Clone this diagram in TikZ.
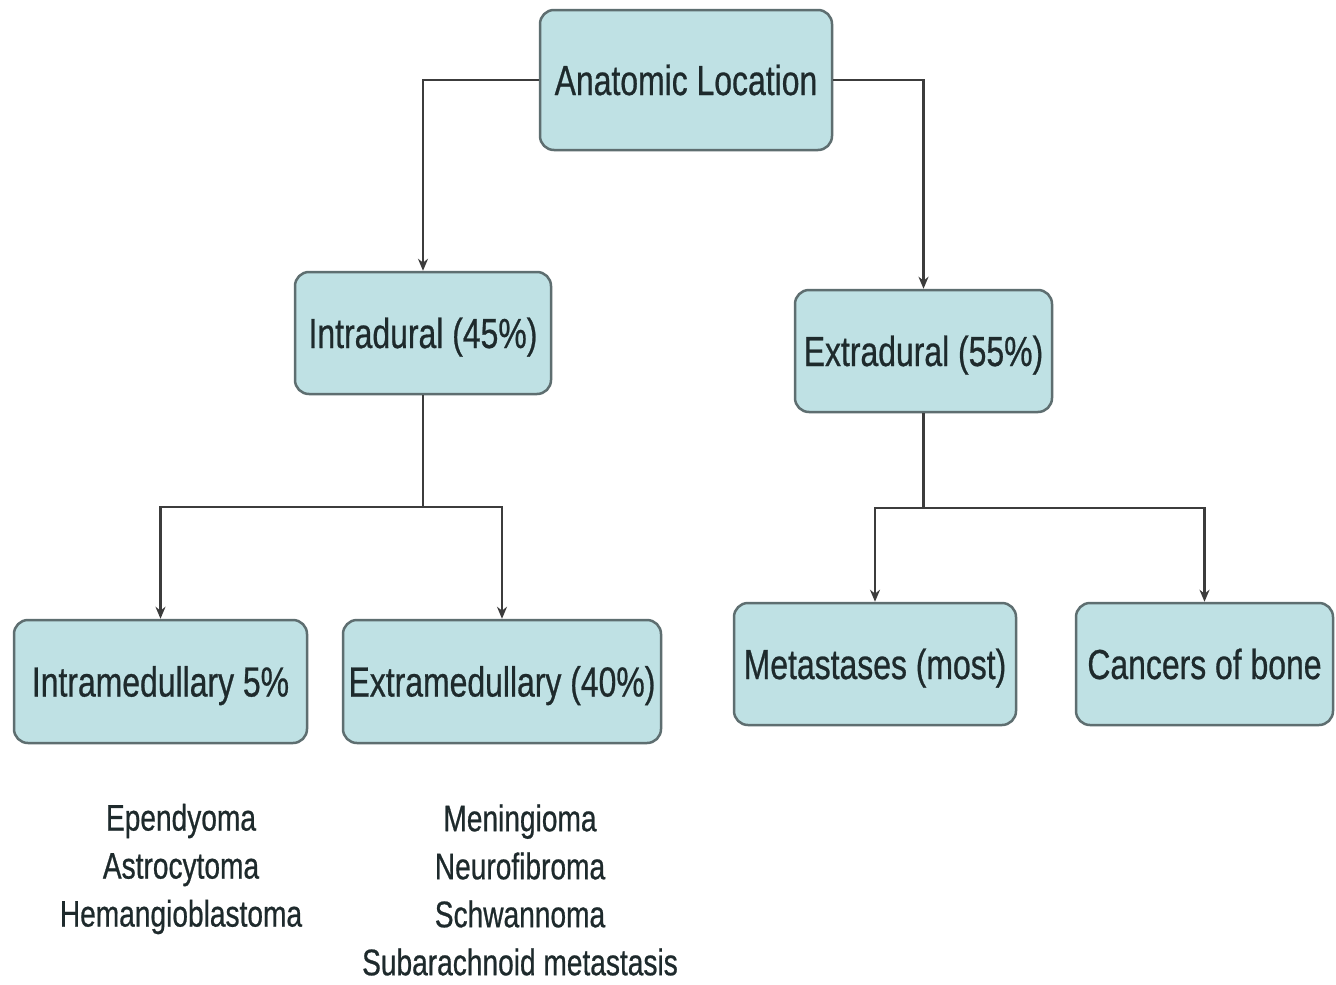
\documentclass[tikz,border=0pt]{standalone}
\usepackage{fontspec}
\setmainfont[FakeStretch=0.76,FakeBold=0.6]{Liberation Sans}
\usetikzlibrary{arrows.meta}
\definecolor{boxfill}{HTML}{BFE1E4}
\definecolor{boxline}{HTML}{5E6E70}
\definecolor{txt}{HTML}{1E2A2C}
\definecolor{conncol}{HTML}{3C3C3C}
\tikzset{
  box/.style={draw=boxline, line width=2.5pt, fill=boxfill, rounded corners=14pt,
    inner sep=0pt, text=txt, font=\fontsize{42}{48}\selectfont,
    text depth=0pt, text height=30pt},
  conn/.style={draw=conncol, line width=2.4pt},
  arr/.style={conn, -{Stealth[length=12pt,width=10pt]}},
  list/.style={align=center, text=txt, font=\fontsize{37}{48}\selectfont, inner sep=0pt},
}
\begin{document}
\begin{tikzpicture}[x=1pt,y=-1pt]
\useasboundingbox[fill=white] (0,0) rectangle (1336,985);
\node[box, minimum width=292pt, minimum height=140pt] (anat) at (686,80) {Anatomic Location};
\node[box, minimum width=256pt, minimum height=122pt] (intra) at (423,333) {Intradural (45\%)};
\node[box, minimum width=257pt, minimum height=122pt] (extra) at (923.5,351) {Extradural (55\%)};
\node[box, minimum width=293pt, minimum height=123pt] (intram) at (160.5,681.5) {Intramedullary 5\%};
\node[box, minimum width=318pt, minimum height=123pt] (extram) at (502,681.5) {Extramedullary (40\%)};
\node[box, minimum width=282pt, minimum height=122pt] (meta) at (875,664) {Metastases (most)};
\node[box, minimum width=257pt, minimum height=122pt] (bone) at (1204.5,664) {Cancers of bone};
\coordinate (j1) at (423,507);
\coordinate (j2) at (923.5,508);
\draw[arr] (anat.west) -| (intra.north);
\draw[arr] (anat.east) -| (extra.north);
\draw[conn] (intra.south) -- (j1);
\draw[arr] (j1) -| (intram.north);
\draw[arr] (j1) -| (extram.north);
\draw[conn] (extra.south) -- (j2);
\draw[arr] (j2) -| (meta.north);
\draw[arr] (j2) -| (bone.north);
\node[list] (l1) at (181,869) {Ependyoma\\Astrocytoma\\Hemangioblastoma};
\node[list] (l2) at (520,890) {Meningioma\\Neurofibroma\\Schwannoma\\Subarachnoid metastasis};
\end{tikzpicture}
\end{document}
